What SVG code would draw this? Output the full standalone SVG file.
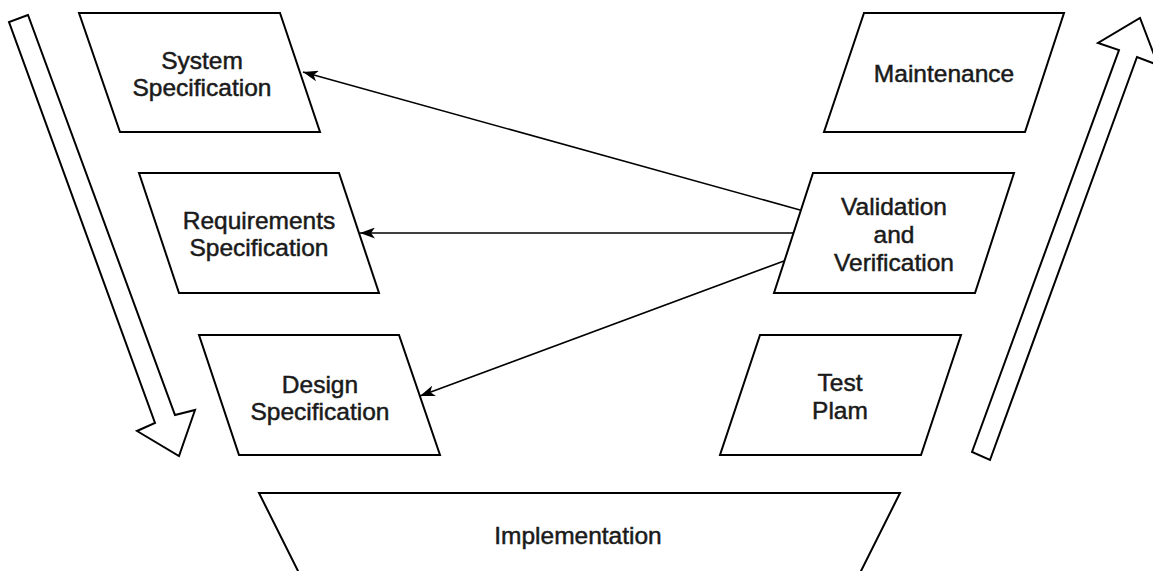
<svg xmlns="http://www.w3.org/2000/svg" width="1153" height="571" viewBox="0 0 1153 571">
<style>
.shape{fill:#fff;stroke:#000;stroke-width:2;stroke-linejoin:miter}
.lbl{font-family:"Liberation Sans",Arial,sans-serif;font-size:24.5px;fill:#1a1a1a;stroke:#1a1a1a;stroke-width:0.5;text-anchor:middle;dominant-baseline:central}
.conn{fill:none;stroke:#000;stroke-width:1.6}
</style>
<defs>
<marker id="arr" markerUnits="userSpaceOnUse" markerWidth="15" markerHeight="11" viewBox="0 0 15 11" refX="15" refY="5.5" orient="auto">
<path d="M0,0 L15,5.5 L0,11 L4,5.5 Z" fill="#000"/>
</marker>
</defs>
<rect width="1153" height="571" fill="#fff"/>
<g id="arrow-down">
<polygon class="shape" points="28,15 9,22 155,423 137,431 179,456 195,410 175,415"/>
</g>
<g id="arrow-up">
<polygon class="shape" points="972,452 1119,50 1098,43 1140,18 1158,65 1137,57 990,460"/>
</g>
<g id="system-spec">
<polygon class="shape" points="79,13 280,13 320,132 120,132"/>
<text class="lbl" x="202" y="60">System</text>
<text class="lbl" x="202" y="87">Specification</text>
</g>
<g id="requirements-spec">
<polygon class="shape" points="139,173 339,173 379,293 179,293"/>
<text class="lbl" x="259" y="220">Requirements</text>
<text class="lbl" x="259" y="247">Specification</text>
</g>
<g id="design-spec">
<polygon class="shape" points="199,335 399,335 440,455 239,455"/>
<text class="lbl" x="320" y="384">Design</text>
<text class="lbl" x="320" y="411">Specification</text>
</g>
<g id="maintenance">
<polygon class="shape" points="864,13 1064,13 1025,132 824,132"/>
<text class="lbl" x="944" y="73">Maintenance</text>
</g>
<g id="validation">
<polygon class="shape" points="813,173 1014,173 975,293 774,293"/>
<text class="lbl" x="894" y="206">Validation</text>
<text class="lbl" x="894" y="234">and</text>
<text class="lbl" x="894" y="262">Verification</text>
</g>
<g id="test-plan">
<polygon class="shape" points="760,335 961,335 921,455 720,455"/>
<text class="lbl" x="840" y="382">Test</text>
<text class="lbl" x="840" y="410">Plam</text>
</g>
<g id="implementation">
<polygon class="shape" points="259,493 900,493 858,577 301,577"/>
<text class="lbl" x="578" y="535">Implementation</text>
</g>
<g id="connectors">
<line class="conn" x1="800" y1="210" x2="303" y2="72" marker-end="url(#arr)"/>
<line class="conn" x1="793" y1="233" x2="360" y2="233" marker-end="url(#arr)"/>
<line class="conn" x1="784" y1="261" x2="420" y2="396" marker-end="url(#arr)"/>
</g>
</svg>
